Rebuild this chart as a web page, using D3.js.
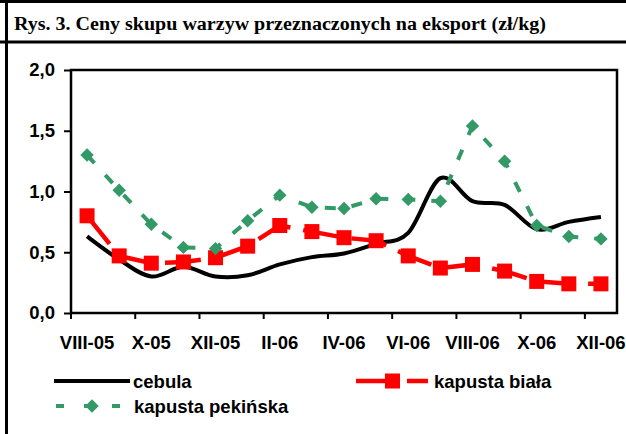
<!DOCTYPE html>
<html>
<head>
<meta charset="utf-8">
<script src="https://cdn.jsdelivr.net/npm/d3@7"></script>
<style>
  html, body { margin: 0; padding: 0; background: #fff; }
  svg { display: block; }
  text { font-family: Arial, "Liberation Sans", sans-serif; font-weight: bold; fill: #000; }
</style>
</head>
<body>
<svg id="chart"></svg>
<script>
// Ceny skupu warzyw przeznaczonych na eksport (zł/kg)
const months = ['VIII-05', 'IX-05', 'X-05', 'XI-05', 'XII-05', 'I-06', 'II-06', 'III-06', 'IV-06',
                'V-06', 'VI-06', 'VII-06', 'VIII-06', 'IX-06', 'X-06', 'XI-06', 'XII-06'];
const cebula          = [0.63, 0.44, 0.30, 0.38, 0.30, 0.31, 0.40, 0.46, 0.49, 0.57, 0.66, 1.11, 0.92, 0.89, 0.69, 0.75, 0.79];
const kapustaBiala    = [0.80, 0.47, 0.41, 0.42, 0.455, 0.55, 0.72, 0.67, 0.62, 0.595, 0.47, 0.37, 0.40, 0.345, 0.26, 0.24, 0.24];
const kapustaPekinska = [1.30, 1.01, 0.73, 0.54, 0.53, 0.76, 0.97, 0.87, 0.86, 0.94, 0.935, 0.92, 1.54, 1.25, 0.72, 0.63, 0.61];
const yTicks = [0, 0.5, 1.0, 1.5, 2.0];
const xLabels = ['VIII-05', 'X-05', 'XII-05', 'II-06', 'IV-06', 'VI-06', 'VIII-06', 'X-06', 'XII-06'];

const W = 626, H = 434;
const svg = d3.select('#chart').attr('width', W).attr('height', H);

// --- frame + title ---
svg.append('line').attr('x1', 6.5).attr('x2', 6.5).attr('y1', 0).attr('y2', H)
    .attr('stroke', '#000').attr('stroke-width', 3);
svg.append('line').attr('x1', 0).attr('x2', W).attr('y1', 1.5).attr('y2', 1.5)
    .attr('stroke', '#000').attr('stroke-width', 3);
svg.append('line').attr('x1', 0).attr('x2', W).attr('y1', 42).attr('y2', 42)
    .attr('stroke', '#000').attr('stroke-width', 3);
svg.append('text')
    .attr('x', 14).attr('y', 30)
    .attr('textLength', 532).attr('lengthAdjust', 'spacingAndGlyphs')
    .style('font-family', '"Liberation Serif", "Times New Roman", serif')
    .style('font-size', '18px')
    .text('Rys. 3. Ceny skupu warzyw przeznaczonych na eksport (zł/kg)');

// --- scales ---
const pLeft = 71, pRight = 617, pTop = 70, pBottom = 313;
const x = d3.scaleBand().domain(months).range([pLeft, pRight]);
const cx = m => x(m) + x.bandwidth() / 2;
const y = d3.scaleLinear().domain([0, 2]).range([pBottom, pTop]);

// --- axes ---
const yAxis = svg.append('g')
    .attr('transform', `translate(${pLeft},0)`)
    .call(d3.axisLeft(y).tickValues(yTicks).tickSize(7).tickPadding(9)
        .tickFormat(d => d.toFixed(1).replace('.', ',')));
yAxis.select('.domain').remove();
yAxis.selectAll('line').attr('stroke', '#000').attr('stroke-width', 2);
yAxis.selectAll('text').style('font-size', '18.5px').style('font-family', 'Arial, "Liberation Sans", sans-serif');

const xAxis = svg.append('g')
    .attr('transform', `translate(0,${pBottom})`)
    .call(d3.axisBottom(x).tickValues(xLabels).tickSize(0).tickPadding(23));
xAxis.select('.domain').remove();
xAxis.selectAll('text').style('font-size', '18.5px').style('font-family', 'Arial, "Liberation Sans", sans-serif');

// tick marks between categories, every second month
svg.append('g').selectAll('line')
    .data(xLabels)
    .join('line')
    .attr('x1', d => x(d)).attr('x2', d => x(d))
    .attr('y1', pBottom).attr('y2', pBottom + 6)
    .attr('stroke', '#000').attr('stroke-width', 2);

// plot frame
svg.append('rect')
    .attr('x', pLeft).attr('y', pTop)
    .attr('width', pRight - pLeft).attr('height', pBottom - pTop)
    .attr('fill', 'none').attr('stroke', '#000').attr('stroke-width', 2.5);

// --- series ---
const line = d3.line().x((d, i) => cx(months[i])).y(d => y(d));
const smooth = d3.line().x((d, i) => cx(months[i])).y(d => y(d)).curve(d3.curveCatmullRom.alpha(0));

svg.append('path').datum(cebula)
    .attr('d', smooth).attr('fill', 'none')
    .attr('stroke', '#000').attr('stroke-width', 4);

svg.append('path').datum(kapustaBiala)
    .attr('d', line).attr('fill', 'none')
    .attr('stroke', '#ff0000').attr('stroke-width', 4.5)
    .attr('stroke-dasharray', '36,13');

svg.append('g').selectAll('rect')
    .data(kapustaBiala)
    .join('rect')
    .attr('x', (d, i) => cx(months[i]) - 7.5)
    .attr('y', d => y(d) - 7.5)
    .attr('width', 15).attr('height', 15)
    .attr('fill', '#ff0000');

svg.append('path').datum(kapustaPekinska)
    .attr('d', line).attr('fill', 'none')
    .attr('stroke', '#339966').attr('stroke-width', 4)
    .attr('stroke-dasharray', '11,16');

const diamond = d3.symbol().type(d3.symbolDiamond2).size(115);
svg.append('g').selectAll('path')
    .data(kapustaPekinska)
    .join('path')
    .attr('transform', (d, i) => `translate(${cx(months[i])},${y(d)})`)
    .attr('d', diamond)
    .attr('fill', '#339966');

// --- legend ---
const lg = svg.append('g');
lg.append('line').attr('x1', 54).attr('x2', 130).attr('y1', 381).attr('y2', 381)
    .attr('stroke', '#000').attr('stroke-width', 4);
lg.append('text').attr('x', 133).attr('y', 388).style('font-size', '18.5px').text('cebula');

lg.append('line').attr('x1', 356).attr('x2', 428).attr('y1', 381).attr('y2', 381)
    .attr('stroke', '#ff0000').attr('stroke-width', 4.5).attr('stroke-dasharray', '43,8');
lg.append('rect').attr('x', 385).attr('y', 373.5).attr('width', 15).attr('height', 15).attr('fill', '#ff0000');
lg.append('text').attr('x', 434).attr('y', 388).style('font-size', '18.5px').text('kapusta biała');

lg.append('line').attr('x1', 56).attr('x2', 122).attr('y1', 406).attr('y2', 406)
    .attr('stroke', '#339966').attr('stroke-width', 4).attr('stroke-dasharray', '8,20');
lg.append('path').attr('transform', 'translate(92,406)').attr('d', diamond).attr('fill', '#339966');
lg.append('text').attr('x', 134).attr('y', 413).style('font-size', '18.5px').text('kapusta pekińska');
</script>
</body>
</html>
